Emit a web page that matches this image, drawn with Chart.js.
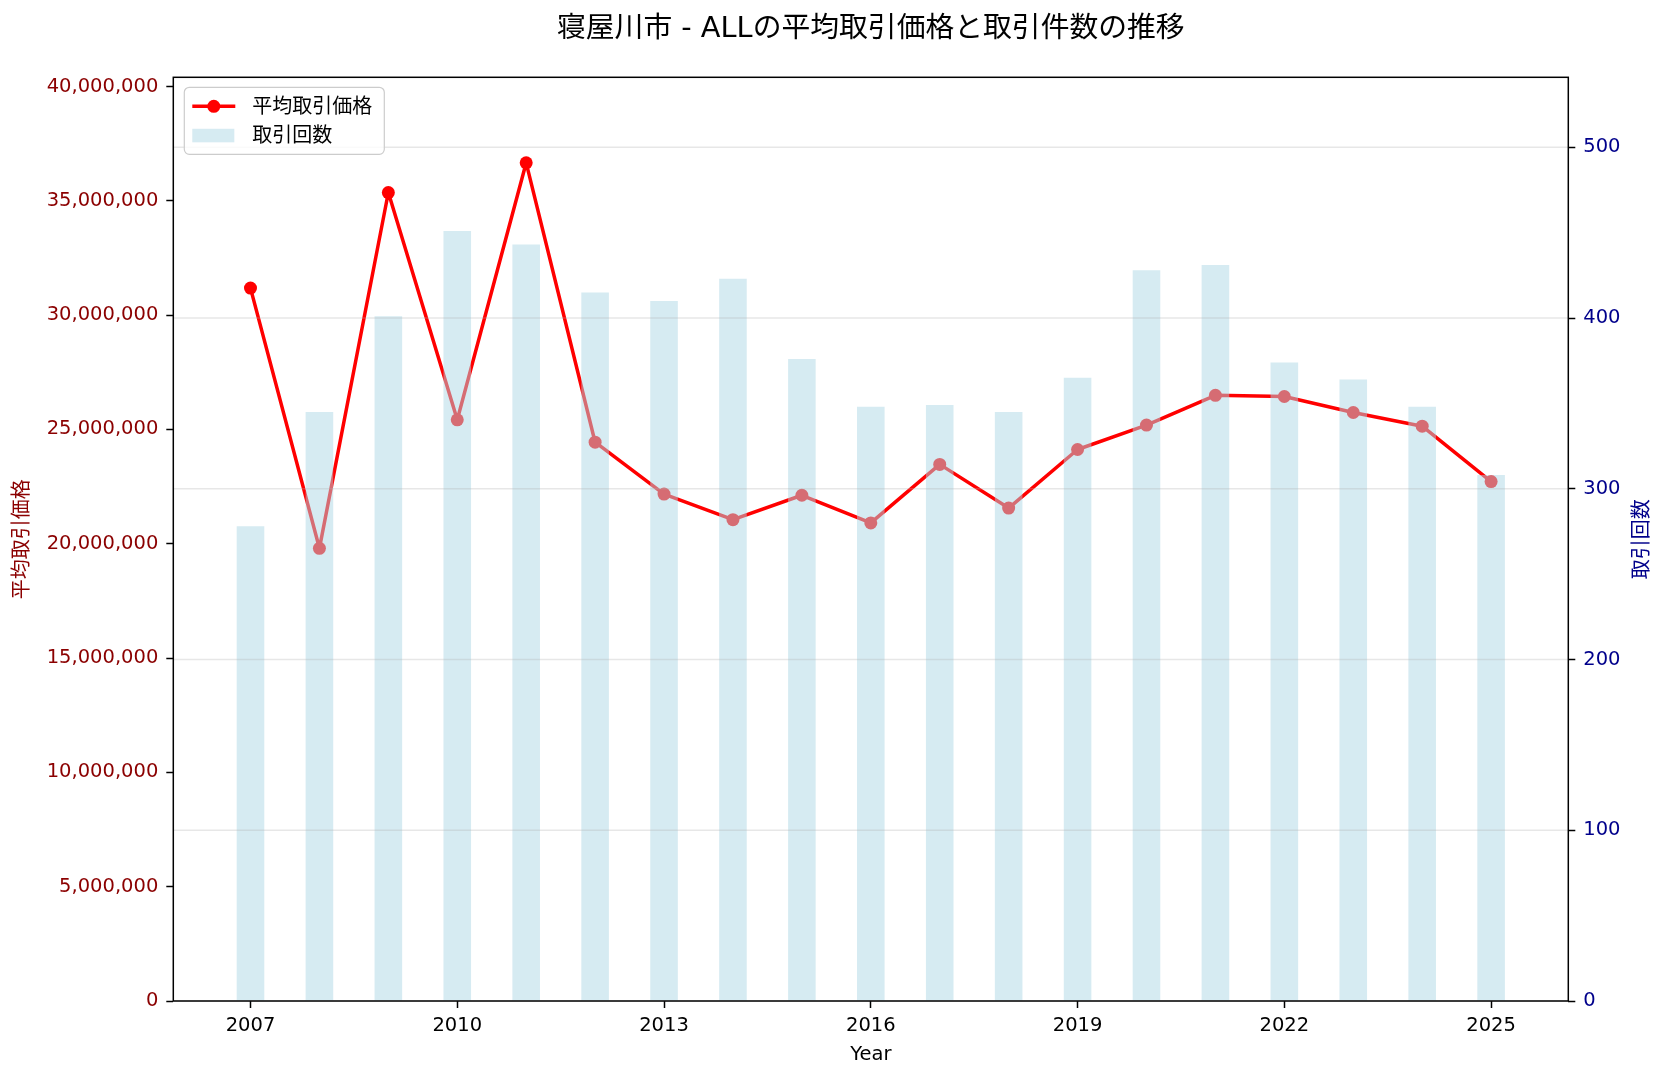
<!DOCTYPE html>
<html>
<head>
<meta charset="utf-8">
<script src="https://cdn.jsdelivr.net/npm/chart.js@4"></script>
<style>
  body { margin: 0; background: #fff; }
  canvas { display: block; }
</style>
</head>
<body>
<canvas id="chart" width="1666" height="1080"></canvas>
<script>
const FONT = '"DejaVu Sans", "Noto Sans CJK JP", sans-serif';

// data
const years = [2007, 2008, 2009, 2010, 2011, 2012, 2013, 2014, 2015, 2016, 2017, 2018, 2019, 2020, 2021, 2022, 2023, 2024, 2025];
const avgPrice = [31180000, 19800000, 35360000, 25420000, 36660000, 24440000, 22170000, 21050000, 22120000, 20910000, 23470000, 21560000, 24120000, 25190000, 26490000, 26440000, 25740000, 25140000, 22720000];
const dealCount = [278, 345, 401, 451, 443, 415, 410, 423, 376, 348, 349, 345, 365, 428, 431, 374, 364, 348, 308];

const xTicks = [2007, 2010, 2013, 2016, 2019, 2022, 2025];
const priceTicks = [0, 5000000, 10000000, 15000000, 20000000, 25000000, 30000000, 35000000, 40000000];
const countTicks = [0, 100, 200, 300, 400, 500];

const titleText = '寝屋川市 - ALLの平均取引価格と取引件数の推移';

const BAR_COLOR = 'rgba(173,216,230,0.5)';
const LINE_COLOR = '#ff0000';

// title, right-hand label, grid over bars, spines and legend
const decor = {
  id: 'decor',
  afterDatasetsDraw(chart) {
    const { ctx, chartArea: a, scales } = chart;
    ctx.save();
    // grid of the right axis, drawn above the bars like matplotlib
    ctx.strokeStyle = 'rgba(176,176,176,0.3)';
    ctx.lineWidth = 1.5;
    countTicks.forEach(v => {
      const y = scales.y1.getPixelForValue(v);
      ctx.beginPath();
      ctx.moveTo(a.left, y);
      ctx.lineTo(a.right, y);
      ctx.stroke();
    });
    // spines
    ctx.strokeStyle = '#000';
    ctx.lineWidth = 1.5;
    ctx.strokeRect(a.left, a.top, a.right - a.left, a.bottom - a.top);
    ctx.restore();
  },
  afterDraw(chart) {
    const { ctx, chartArea: a } = chart;
    ctx.save();
    // title
    ctx.fillStyle = '#000';
    ctx.font = '28.8px ' + FONT;
    ctx.textAlign = 'center';
    ctx.textBaseline = 'middle';
    ctx.fillText(titleText, (a.left + a.right) / 2, 29.5);

    // right axis label, reading bottom to top
    ctx.save();
    ctx.translate(1643, (a.top + a.bottom) / 2);
    ctx.rotate(-Math.PI / 2);
    ctx.fillStyle = '#00008B';
    ctx.font = '20px ' + FONT;
    ctx.fillText('取引回数', 0, 0);
    ctx.restore();

    // legend
    const lx = a.left + 11, ly = a.top + 10, lw = 200, lh = 67;
    ctx.beginPath();
    ctx.roundRect(lx, ly, lw, lh, 5);
    ctx.fillStyle = 'rgba(255,255,255,0.8)';
    ctx.fill();
    ctx.strokeStyle = '#cccccc';
    ctx.lineWidth = 1.2;
    ctx.stroke();

    const ds = chart.data.datasets;
    const row1 = ly + 19, row2 = ly + 48;
    ctx.strokeStyle = LINE_COLOR;
    ctx.lineWidth = 3.5;
    ctx.beginPath();
    ctx.moveTo(lx + 8, row1);
    ctx.lineTo(lx + 51, row1);
    ctx.stroke();
    ctx.fillStyle = LINE_COLOR;
    ctx.beginPath();
    ctx.arc(lx + 29.5, row1, 6.5, 0, Math.PI * 2);
    ctx.fill();

    ctx.fillStyle = BAR_COLOR;
    ctx.fillRect(lx + 8, row2 - 6.5, 42, 13.5);

    ctx.fillStyle = '#000';
    ctx.font = '20px ' + FONT;
    ctx.textAlign = 'left';
    ctx.fillText(ds[0].label, lx + 68, row1 + 1);
    ctx.fillText(ds[1].label, lx + 68, row2 + 1);
    ctx.restore();
  }
};

const setTicks = list => scale => { scale.ticks = list.map(v => ({ value: v })); };

new Chart(document.getElementById('chart'), {
  type: 'bar',
  data: {
    datasets: [
      {
        type: 'line',
        label: '平均取引価格',
        data: years.map((y, i) => ({ x: y, y: avgPrice[i] })),
        yAxisID: 'y',
        borderColor: LINE_COLOR,
        backgroundColor: LINE_COLOR,
        borderWidth: 3.5,
        borderJoinStyle: 'round',
        pointRadius: 6.5,
        pointBorderWidth: 0,
        pointBackgroundColor: LINE_COLOR,
        tension: 0,
        order: 2
      },
      {
        type: 'bar',
        label: '取引回数',
        data: years.map((y, i) => ({ x: y, y: dealCount[i] })),
        yAxisID: 'y1',
        backgroundColor: BAR_COLOR,
        borderWidth: 0,
        barPercentage: 0.4,
        categoryPercentage: 1.0,
        order: 1
      }
    ]
  },
  options: {
    responsive: false,
    animation: false,
    layout: { padding: { top: 77.3, left: 0, right: 0, bottom: 0 } },
    plugins: {
      legend: { display: false },
      tooltip: { enabled: false },
      title: { display: false }
    },
    scales: {
      x: {
        type: 'linear',
        min: 2005.88,
        max: 2026.12,
        offset: false,
        afterBuildTicks: setTicks(xTicks),
        afterFit: s => { s.height = 79; },
        grid: { display: true, offset: false, drawOnChartArea: false, drawTicks: true, tickLength: 7, tickColor: '#000', tickWidth: 1.5 },
        border: { display: false },
        ticks: { color: '#000', font: { family: FONT, size: 19.5 }, padding: 6, callback: v => String(v), maxRotation: 0 },
        title: { display: true, text: 'Year', color: '#000', font: { family: FONT, size: 19.5 }, padding: { top: 0, bottom: 13 } }
      },
      y: {
        position: 'left',
        min: 0,
        max: 40400000,
        afterBuildTicks: setTicks(priceTicks),
        afterFit: s => { s.width = 173.3; },
        grid: { display: true, drawOnChartArea: false, drawTicks: true, tickLength: 7, tickColor: '#000', tickWidth: 1.5 },
        border: { display: false },
        ticks: { color: '#8B0000', font: { family: FONT, size: 19.5 }, padding: 8, callback: v => v.toLocaleString('en-US') },
        title: { display: true, text: '平均取引価格', color: '#8B0000', font: { family: FONT, size: 20 }, padding: { top: 11, bottom: 0 } }
      },
      y1: {
        position: 'right',
        min: 0,
        max: 541,
        afterBuildTicks: setTicks(countTicks),
        afterFit: s => { s.width = 97.7; },
        grid: { display: true, drawOnChartArea: false, drawTicks: true, tickLength: 7, tickColor: '#000', tickWidth: 1.5 },
        border: { display: false },
        ticks: { color: '#00008B', font: { family: FONT, size: 19.5 }, padding: 8, callback: v => String(v) }
      }
    }
  },
  plugins: [decor]
});
</script>
</body>
</html>
